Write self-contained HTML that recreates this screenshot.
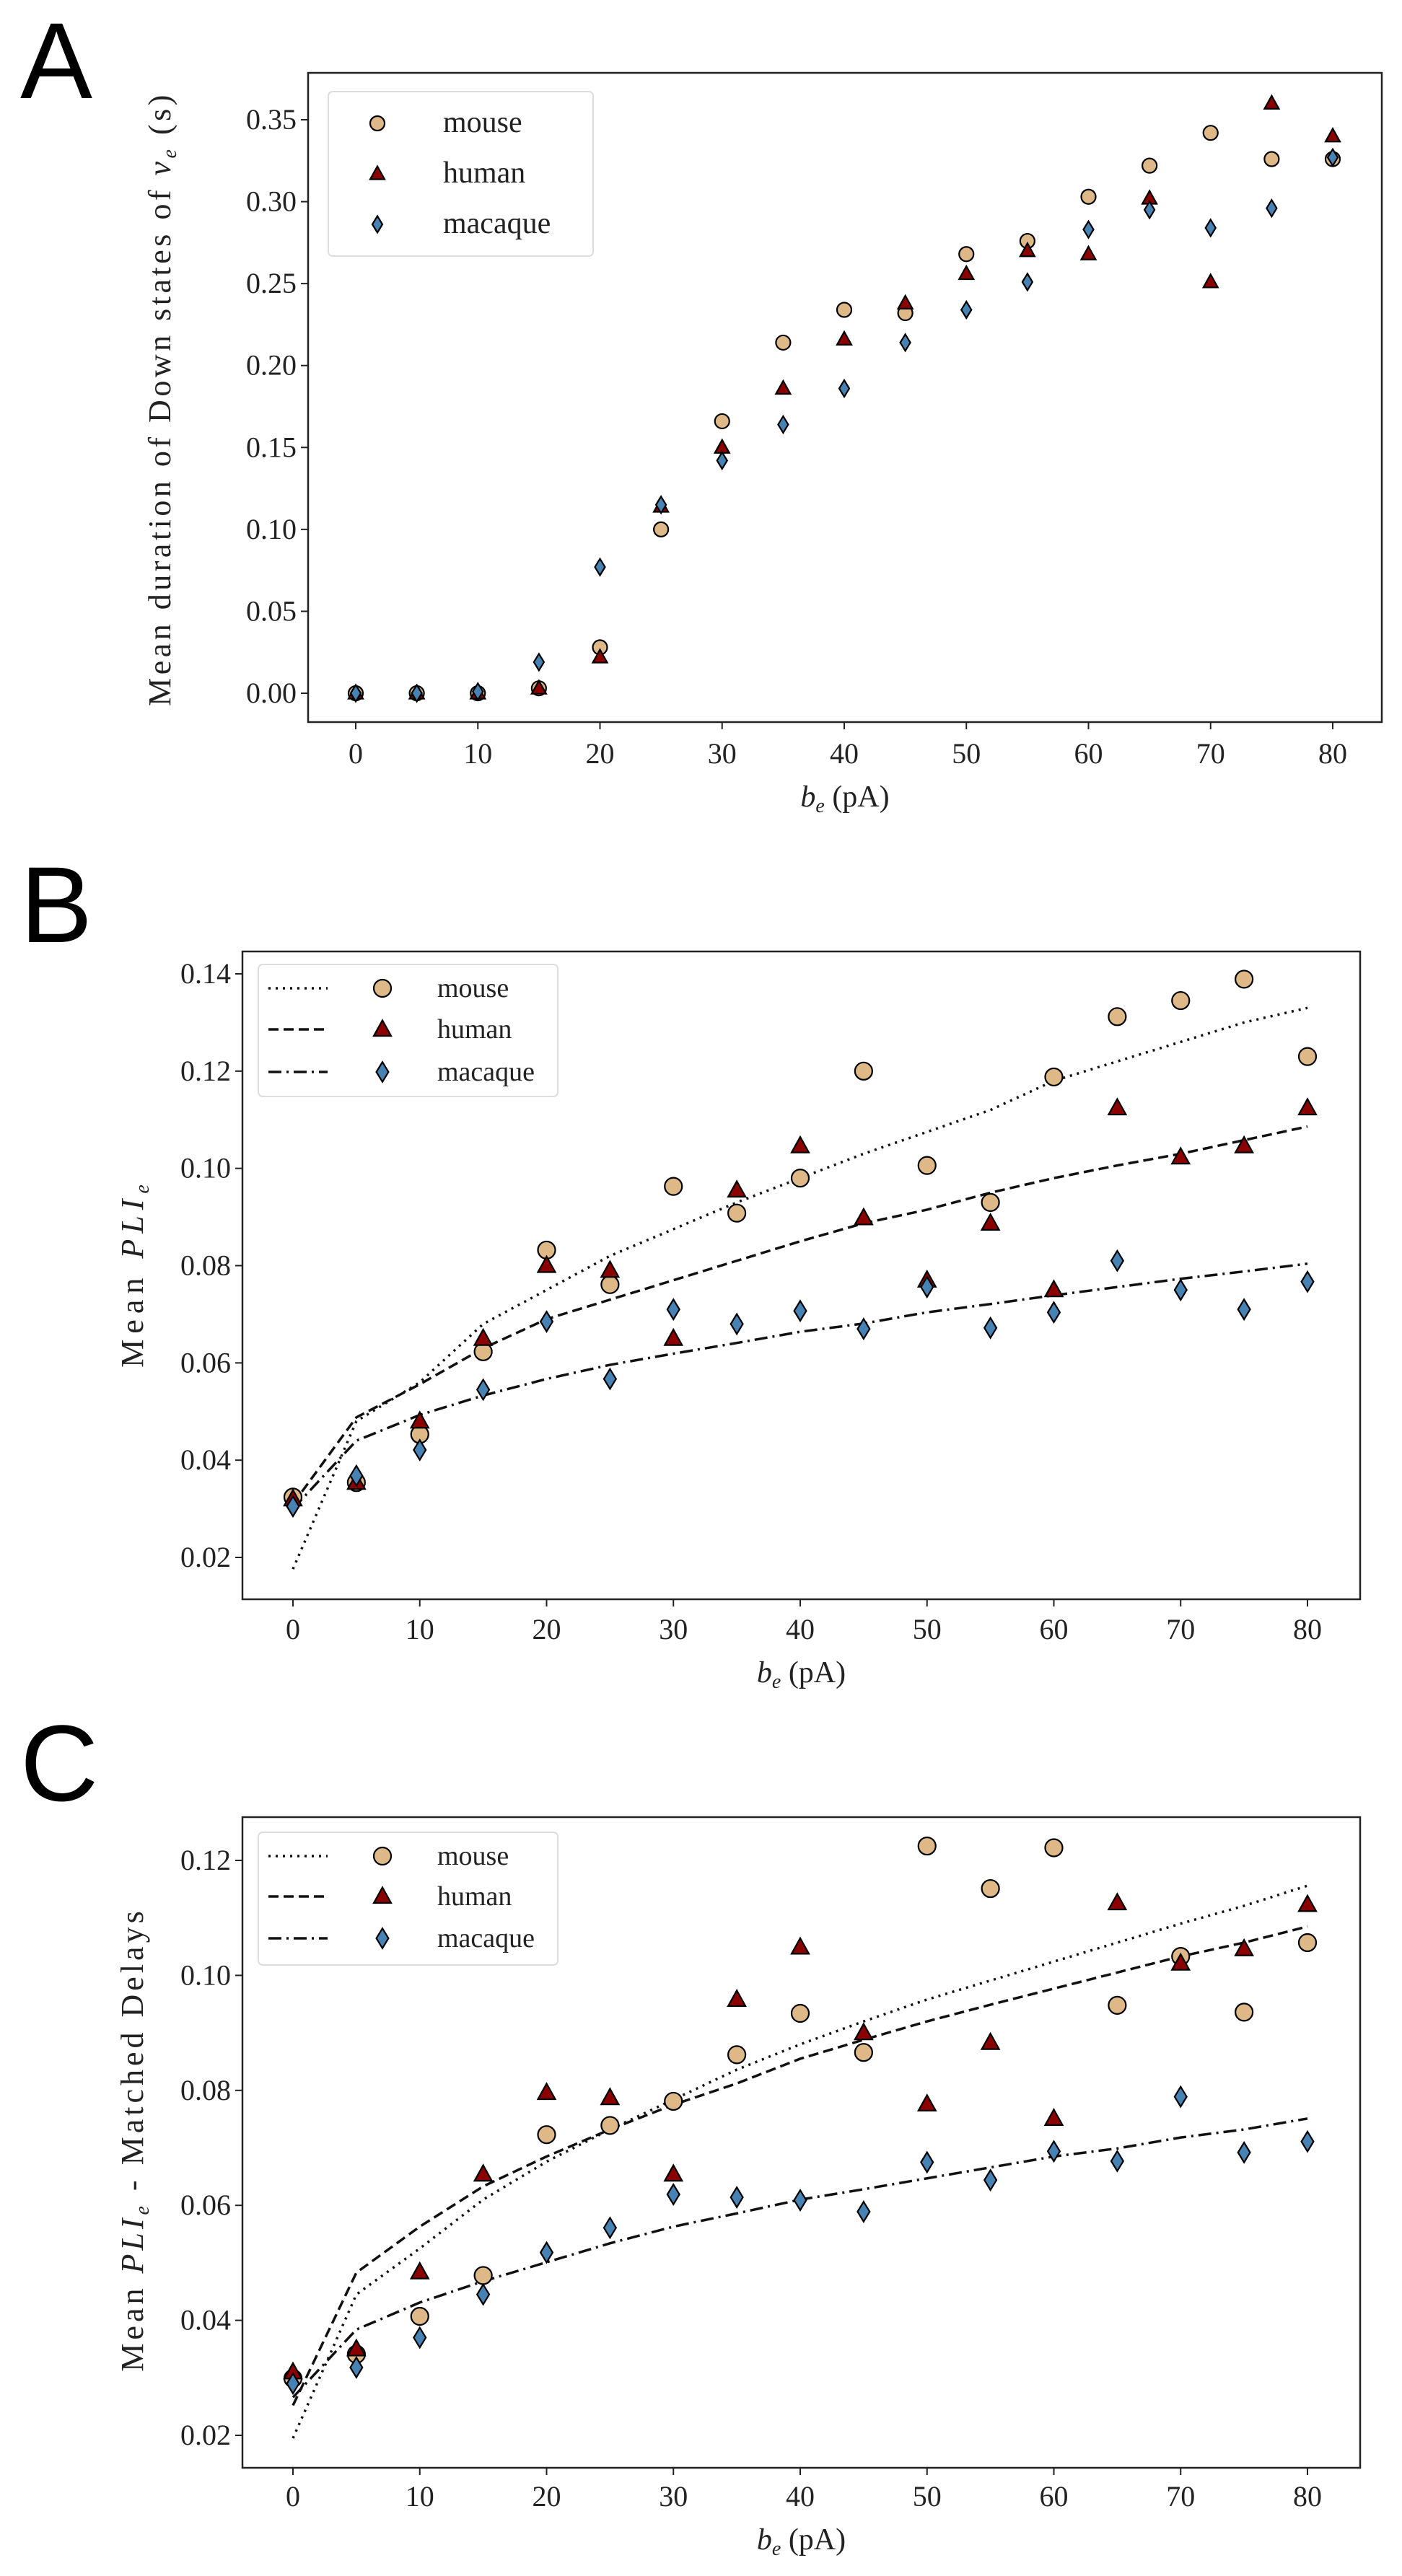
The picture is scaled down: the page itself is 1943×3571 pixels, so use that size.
<!DOCTYPE html>
<html><head><meta charset="utf-8"><style>
html,body{margin:0;padding:0;background:#fff}
svg{display:block}
text{font-family:"Liberation Serif",serif;fill:#222}
.lbl{font-family:"Liberation Sans","DejaVu Sans",sans-serif;fill:#000}
</style></head><body>
<svg id="fig" width="1943" height="3571" viewBox="0 0 1943 3571" xmlns="http://www.w3.org/2000/svg"></svg>
<script>
const xCats=[0,5,10,15,20,25,30,35,40,45,50,55,60,65,70,75,80];
const xTicks=[0,10,20,30,40,50,60,70,80];
// Panel A
const aMouse=[0,0,0,0.003,0.028,0.100,0.166,0.214,0.234,0.232,0.268,0.276,0.303,0.322,0.342,0.326,0.326];
const aHuman=[0,0,0,0.003,0.022,0.114,0.150,0.186,0.216,0.238,0.256,0.270,0.268,0.302,0.251,0.360,0.340];
const aMacaque=[0,0,0.001,0.019,0.077,0.115,0.142,0.164,0.186,0.214,0.234,0.251,0.283,0.295,0.284,0.296,0.327];
const aYTicks=[0,0.05,0.10,0.15,0.20,0.25,0.30,0.35];
// Panel B
const bMouse=[0.0324,0.0354,0.0453,0.0623,0.0832,0.0761,0.0963,0.0908,0.098,0.120,0.1006,0.093,0.1188,0.1312,0.1345,0.1389,0.123];
const bHuman=[0.032,0.0354,0.048,0.065,0.080,0.079,0.065,0.0955,0.1046,0.0898,0.077,0.0887,0.075,0.1124,0.1023,0.1046,0.1124];
const bMacaque=[0.0305,0.0368,0.0421,0.0545,0.0685,0.0567,0.071,0.068,0.0707,0.067,0.0756,0.0672,0.0704,0.081,0.075,0.071,0.0767];
const bFitMouse=[0.0176,0.048,0.056,0.068,0.075,0.082,0.0875,0.093,0.098,0.103,0.1075,0.112,0.118,0.122,0.126,0.130,0.133];
const bFitHuman=[0.031,0.0488,0.0556,0.063,0.069,0.073,0.077,0.081,0.085,0.0887,0.0915,0.095,0.098,0.1006,0.103,0.1058,0.1086];
const bFitMacaque=[0.030,0.044,0.0493,0.0533,0.0567,0.0596,0.0619,0.0641,0.0664,0.0681,0.0704,0.0721,0.0739,0.0756,0.0773,0.0788,0.0804];
const bYTicks=[0.02,0.04,0.06,0.08,0.10,0.12,0.14];
// Panel C
const cMouse=[0.0299,0.0341,0.0407,0.0478,0.0723,0.0739,0.0781,0.0862,0.0934,0.0866,0.1225,0.1151,0.1222,0.0948,0.1033,0.0936,0.1057];
const cHuman=[0.031,0.035,0.0484,0.0654,0.0796,0.0787,0.0654,0.0958,0.1049,0.090,0.0776,0.0883,0.0751,0.1126,0.1021,0.1046,0.1123];
const cMacaque=[0.029,0.0318,0.037,0.0445,0.0518,0.0561,0.0619,0.0614,0.0609,0.0589,0.0675,0.0644,0.0694,0.0677,0.0789,0.0692,0.0711];
const cFitMouse=[0.0195,0.0445,0.0525,0.061,0.0676,0.0732,0.0784,0.0836,0.088,0.092,0.0958,0.0991,0.1024,0.1057,0.109,0.1121,0.1156];
const cFitHuman=[0.0252,0.0483,0.0563,0.0633,0.0685,0.0732,0.0775,0.0812,0.0855,0.0888,0.092,0.0949,0.0977,0.1005,0.1033,0.1057,0.1085];
const cFitMacaque=[0.0266,0.0384,0.0431,0.0468,0.0501,0.0534,0.0563,0.0586,0.061,0.0628,0.0647,0.0666,0.0685,0.0699,0.0718,0.0732,0.0751];
const cYTicks=[0.02,0.04,0.06,0.08,0.10,0.12];

const NS="http://www.w3.org/2000/svg";
const svg=document.getElementById('fig');
function mk(tag,attrs,parent){const e=document.createElementNS(NS,tag);for(const k in attrs)e.setAttribute(k,attrs[k]);(parent||svg).appendChild(e);return e;}
const COL={mouse:'#deb887',human:'#8b0000',macaque:'#4682b4'};
const DASH={mouse:'3,7',human:'14,7',macaque:'18,7,3,7'};

function marker(g,kind,cx,cy,r){
  let e;
  if(kind==='mouse'){e=mk('circle',{cx:cx,cy:cy,r:r,fill:COL.mouse,stroke:'#000','stroke-width':2.2},g);}
  else if(kind==='human'){e=mk('polygon',{points:`${cx},${cy-r*1.05} ${cx+r},${cy+r*0.75} ${cx-r},${cy+r*0.75}`,fill:COL.human,stroke:'#000','stroke-width':2.2},g);}
  else {e=mk('polygon',{points:`${cx},${cy-r*1.15} ${cx+r*0.7},${cy} ${cx},${cy+r*1.15} ${cx-r*0.7},${cy}`,fill:COL.macaque,stroke:'#000','stroke-width':2.2},g);}
  return e;
}

function panel(cfg){
  const g=mk('g',{});
  
  
  const xs=v=>cfg.x0+(v-0)/80*(cfg.x80-cfg.x0);
  const ys=v=>cfg.yA+(v-cfg.vA)/(cfg.vB-cfg.vA)*(cfg.yB-cfg.yA);
  const lt=mk('text',{x:cfg.letterX,y:cfg.letterY,'font-size':150,class:'lbl'},g);lt.textContent=cfg.letter;
  
  
  const fr=mk('rect',{x:cfg.L,y:cfg.T,width:cfg.R-cfg.L,height:cfg.B-cfg.T,fill:'none',stroke:'#222','stroke-width':2.5},g);
  
  
  xTicks.forEach(t=>{const x=xs(t);mk('line',{x1:x,x2:x,y1:cfg.B,y2:cfg.B+10,stroke:'#222','stroke-width':2},g);
    const tx=mk('text',{x:x,y:cfg.xTickY,'font-size':cfg.fs,'text-anchor':'middle'},g);tx.textContent=t;
    
    });
  cfg.yTicks.forEach(t=>{const y=ys(t);mk('line',{x1:cfg.L-10,x2:cfg.L,y1:y,y2:y,stroke:'#222','stroke-width':2},g);
    const tx=mk('text',{x:cfg.L-16,y:y+13,'font-size':cfg.fs,'text-anchor':'end'},g);tx.textContent=t.toFixed(2);
    
    });
  const xl=mk('text',{x:(cfg.L+cfg.R)/2,y:cfg.xLabelY,'font-size':cfg.fs+2,'text-anchor':'middle'},g);
  xl.innerHTML='<tspan font-style="italic">b</tspan><tspan font-style="italic" font-size="'+(cfg.fs*0.7)+'" dy="8">e</tspan><tspan dy="-8"> (pA)</tspan>';
  
  
  const yl=mk('text',{x:0,y:0,'font-size':cfg.fs+4,'text-anchor':'middle',transform:`translate(${cfg.yLabelX},${cfg.yLabelCY}) rotate(-90)`,'letter-spacing':cfg.ls},g);
  yl.innerHTML=cfg.yLabel;
  
  
  if(cfg.fits){
    ['mouse','human','macaque'].forEach(k=>{
      const pts=cfg.fits[k].map((v,i)=>xs(xCats[i])+','+ys(v)).join(' ');
      const pl=mk('polyline',{points:pts,fill:'none',stroke:'#111','stroke-width':3.5,'stroke-dasharray':DASH[k]},g);
      
      
    });
  }
  ['mouse','human','macaque'].forEach(k=>{
    cfg.data[k].forEach((v,i)=>{
      const m=marker(g,k,xs(xCats[i]),ys(v),cfg.r);
      
      
    });
  });
  const lg=cfg.leg;
  const lr=mk('rect',{x:lg.x,y:lg.y,width:lg.w,height:lg.h,rx:6,fill:'#fff','fill-opacity':0.85,stroke:'#ddd','stroke-width':2},g);
  
  
  ['mouse','human','macaque'].forEach((k,i)=>{
    const y=lg.rows[i];
    if(cfg.fits){const ln=mk('line',{x1:lg.lineX,x2:lg.lineX+82,y1:y,y2:y,stroke:'#111','stroke-width':3.5,'stroke-dasharray':DASH[k]},g);
      
      }
    const m=marker(g,k,lg.mX,y,cfg.r);
    
    
    const t=mk('text',{x:lg.tX,y:y+12,'font-size':lg.fs},g);t.textContent=k;
    
    
  });
}

panel({name:'panel-a',letter:'A',letterX:28,letterY:136,L:427,R:1915,T:101,B:1001,x0:493,x80:1847,vA:0,yA:961,vB:0.35,yB:166,
  yTicks:aYTicks,fs:40,r:10,xTickY:1058,xLabelY:1118,yLabelX:236,yLabelCY:553,ls:4.5,
  yLabel:'Mean duration of Down states of <tspan font-style="italic">ν</tspan><tspan font-style="italic" font-size="28" dy="8">e</tspan><tspan dy="-8"> (s)</tspan>',
  data:{mouse:aMouse,human:aHuman,macaque:aMacaque},fits:null,
  leg:{x:455,y:127,w:367,h:228,rows:[171,241,311],mX:523,tX:614,fs:42,lineX:0}});

panel({name:'panel-b',letter:'B',letterX:28,letterY:1306,L:336,R:1885,T:1319,B:2217,x0:406,x80:1812,vA:0.14,yA:1350,vB:0.02,yB:2159,
  yTicks:bYTicks,fs:40,r:12,xTickY:2272,xLabelY:2332,yLabelX:198,yLabelCY:1765,ls:8,
  yLabel:'Mean <tspan font-style="italic">PLI</tspan><tspan font-style="italic" font-size="28" dy="8">e</tspan>',
  data:{mouse:bMouse,human:bHuman,macaque:bMacaque},fits:{mouse:bFitMouse,human:bFitHuman,macaque:bFitMacaque},
  leg:{x:358,y:1337,w:415,h:183,rows:[1370,1427,1486],mX:530,tX:606,fs:38,lineX:372}});

panel({name:'panel-c',letter:'C',letterX:28,letterY:2496,L:336,R:1885,T:2519,B:3421,x0:406,x80:1812,vA:0.12,yA:2579,vB:0.02,yB:3376,
  yTicks:cYTicks,fs:40,r:12,xTickY:3474,xLabelY:3534,yLabelX:198,yLabelCY:2966,ls:5,
  yLabel:'Mean <tspan font-style="italic">PLI</tspan><tspan font-style="italic" font-size="28" dy="8">e</tspan><tspan dy="-8"> - Matched Delays</tspan>',
  data:{mouse:cMouse,human:cHuman,macaque:cMacaque},fits:{mouse:cFitMouse,human:cFitHuman,macaque:cFitMacaque},
  leg:{x:358,y:2540,w:415,h:184,rows:[2573,2629,2687],mX:530,tX:606,fs:38,lineX:372}});
</script>
</body></html>
